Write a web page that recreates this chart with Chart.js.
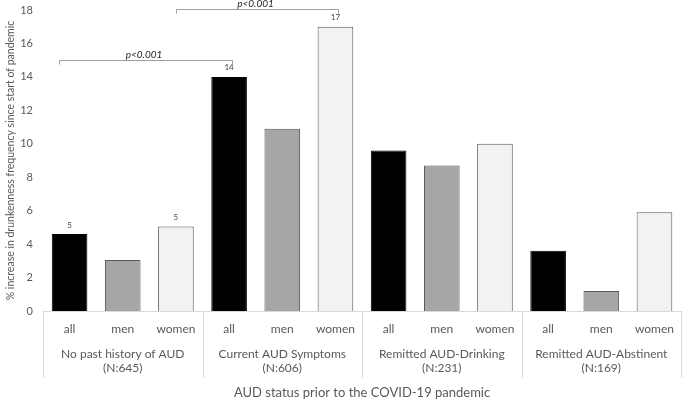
<!DOCTYPE html>
<html>
<head>
<meta charset="utf-8">
<script src="https://cdn.jsdelivr.net/npm/chart.js@4"></script>
<style>
  html,body{margin:0;padding:0;background:#fff;}
  #wrap{width:685px;height:402px;position:relative;}
</style>
</head>
<body>
<div id="wrap"><canvas id="c"></canvas></div>
<script>
(function(){
  'use strict';
  // datos
  const subLabels = ['all','men','women','all','men','women','all','men','women','all','men','women'];
  const groupLabels = [['No past history of AUD','(N:645)'],['Current AUD Symptoms','(N:606)'],['Remitted AUD-Drinking','(N:231)'],['Remitted AUD-Abstinent','(N:169)']];
  const values = [4.6, 3.05, 5.05, 14.0, 10.9, 17.0, 9.6, 8.7, 10.0, 3.6, 1.2, 5.9];
  const barLabels = ['5','','5','14','','17','','','','','',''];
  const yTicks = [0,2,4,6,8,10,12,14,16,18];
  const brackets = [{from:-0.2, to:3.05, level:15, text:'p<0.001'}, {from:2, to:5.05, level:18.05, text:'p<0.001'}];

  const P = {black:'#000000', gray:'#a6a6a6', light:'#f2f2f2', edge:'#595959', text:'#595959', line:'#d9d9d9'};
  const FONT = 'Lato, "Open Sans", sans-serif';
  const fills = subLabels.map((s,i)=>[P.black,P.gray,P.light][i%3]);
  const edges = subLabels.map((s,i)=>i%3===0?P.black:P.edge);

  const extras = {
    id:'extras',
    afterDraw(chart){
      const ctx = chart.ctx, x = chart.scales.x, y = chart.scales.y, x2 = chart.scales.x2;
      const meta = chart.getDatasetMeta(0);
      ctx.save();
      // etiquetas de valor
      ctx.fillStyle = '#404040'; ctx.font = '8px '+FONT; ctx.textAlign='center'; ctx.textBaseline='bottom';
      meta.data.forEach((b,i)=>{ if(barLabels[i]) ctx.fillText(barLabels[i], b.x, b.y-5); });
      // separadores de grupo
      const fs = x2.options.ticks.font.size;
      const yEnd = x2.top + x2.options.ticks.padding + fs*1.2*2 + 2;
      ctx.strokeStyle = P.line; ctx.lineWidth = 1;
      for(let g=0; g<=groupLabels.length; g++){
        const px = Math.round(x.getPixelForValue(g*3-0.5))+0.5;
        ctx.beginPath(); ctx.moveTo(px, chart.chartArea.bottom); ctx.lineTo(px, yEnd); ctx.stroke();
      }
      // corchetes p
      ctx.strokeStyle = '#a0a0a0'; ctx.fillStyle = '#262626';
      ctx.font = 'italic 10px '+FONT; ctx.textBaseline='bottom';
      brackets.forEach(br=>{
        const xa = Math.round(x.getPixelForValue(br.from))+0.5, xb = Math.round(x.getPixelForValue(br.to))+0.5;
        const py = Math.round(y.getPixelForValue(br.level))+0.5;
        ctx.beginPath(); ctx.moveTo(xa, py+4); ctx.lineTo(xa, py); ctx.lineTo(xb, py); ctx.lineTo(xb, py+4); ctx.stroke();
        ctx.fillText(br.text, (xa+xb)/2-2, py-1);
      });
      ctx.restore();
    }
  };

  new Chart(document.getElementById('c'), {
    type:'bar',
    data:{labels: subLabels, datasets:[{data: values, backgroundColor: fills, borderColor: edges, borderWidth:1, barPercentage:0.67, categoryPercentage:1}]},
    options:{
      responsive:true, maintainAspectRatio:false, animation:false,
      layout:{padding:{top:10, right:0, left:0, bottom:1}},
      plugins:{legend:{display:false}, tooltip:{enabled:false}},
      scales:{
        y:{min:0, max:18, afterBuildTicks: s=>{ s.ticks = yTicks.map(v=>({value:v})); },
           afterFit: s=>{ s.width = 43; s.paddingTop = 0; },
           grid:{display:false, drawTicks:false}, border:{display:false},
           ticks:{color:P.text, font:{family:FONT, size:11}, padding:10},
           title:{display:true, text:'% increase in drunkenness frequency since start of pandemic', color:P.text, font:{family:FONT, size:10.5}, padding:{top:4, bottom:4}}},
        x:{afterFit: s=>{ s.height = 26; },
           grid:{display:false, drawTicks:false}, border:{display:true, color:P.line},
           ticks:{color:P.text, font:{family:FONT, size:12}, padding:11, maxRotation:0, autoSkip:false}},
        x2:{type:'category', labels: groupLabels, position:'bottom', offset:true,
            afterFit: s=>{ s.height = 64; },
            grid:{display:false, drawTicks:false}, border:{display:false},
            ticks:{color:P.text, font:{family:FONT, size:12}, padding:10, maxRotation:0, autoSkip:false},
            title:{display:true, text:'AUD status prior to the COVID-19 pandemic', color:P.text, font:{family:FONT, size:13}, padding:{top:6, bottom:0}}}
      }
    },
    plugins:[extras]
  });
})();
</script>
</body>
</html>
